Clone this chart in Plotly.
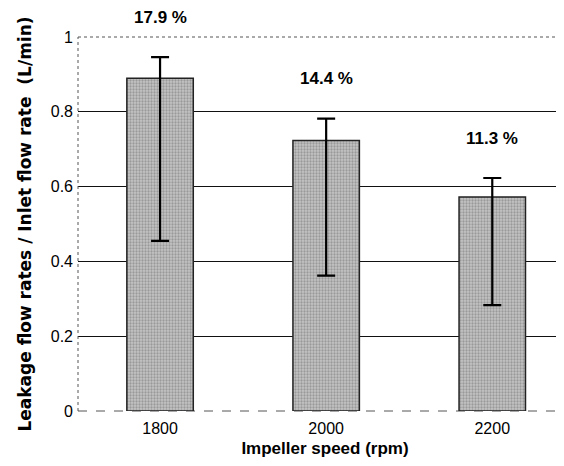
import plotly.graph_objects as go

speeds = ["1800", "2000", "2200"]
ratio = [0.890, 0.723, 0.572]
err_hi = [0.946, 0.782, 0.623]
err_lo = [0.455, 0.362, 0.283]
pct_labels = ["17.9 %", "14.4 %", "11.3 %"]
y_ticks = [0, 0.2, 0.4, 0.6, 0.8, 1]
y_ticktext = ["0", "0.2", "0.4", "0.6", "0.8", "1"]

FONT = "Liberation Sans, Arial, sans-serif"

fig = go.Figure()
fig.add_trace(go.Bar(
    x=speeds, y=ratio, width=0.4,
    marker=dict(color="#b0b0b0", line=dict(color="#222222", width=1.5),
                pattern=dict(shape=".", fgcolor="#6e6e6e", bgcolor="#c4c4c4",
                             size=3, solidity=0.45)),
    error_y=dict(type="data", symmetric=False,
                 array=[h - v for h, v in zip(err_hi, ratio)],
                 arrayminus=[v - l for v, l in zip(ratio, err_lo)],
                 color="black", thickness=2.2, width=9),
    showlegend=False,
))

for i, (h, t) in enumerate(zip(err_hi, pct_labels)):
    fig.add_annotation(x=i, y=h, xref="x", yref="y", text=f"<b>{t}</b>",
                       showarrow=False, yanchor="middle", yshift=40,
                       font=dict(family=FONT, size=17, color="black"))

# dotted frame of the plot area
fig.add_shape(type="line", xref="paper", yref="paper", x0=0, x1=1, y0=1, y1=1,
              line=dict(color="#555555", width=1, dash="dot"))
fig.add_shape(type="line", xref="paper", yref="paper", x0=0, x1=0, y0=0, y1=1,
              line=dict(color="#555555", width=1, dash="dot"))
fig.add_shape(type="line", xref="paper", yref="paper", x0=0, x1=1, y0=0, y1=0,
              line=dict(color="#555555", width=1, dash="dash"), layer="below")

fig.update_layout(
    width=564, height=466,
    margin=dict(l=70, r=0, t=29, b=63),
    paper_bgcolor="white", plot_bgcolor="white",
    font=dict(family=FONT, color="black"),
    xaxis=dict(type="category", range=[-0.494, 2.48], showgrid=False,
               showline=False, ticks="", tickfont=dict(size=16),
               ticklabelstandoff=6,
               title=dict(text="<b>Impeller speed (rpm)</b>",
                          font=dict(size=17), standoff=6)),
    yaxis=dict(range=[0, 1], tickvals=y_ticks, ticktext=y_ticktext,
               showgrid=False, zeroline=False, showline=False, ticks="",
               tickfont=dict(size=16), ticklabelstandoff=4,
               minor=dict(tickvals=[0.2, 0.4, 0.6, 0.8], showgrid=True,
                          gridcolor="#111111", gridwidth=1),
               title=dict(text="<b>Leakage flow rates / Inlet flow rate  (L/min)</b>",
                          font=dict(family="DejaVu Sans, sans-serif", size=17),
                          standoff=14)),
)

fig.write_html("out.html")
